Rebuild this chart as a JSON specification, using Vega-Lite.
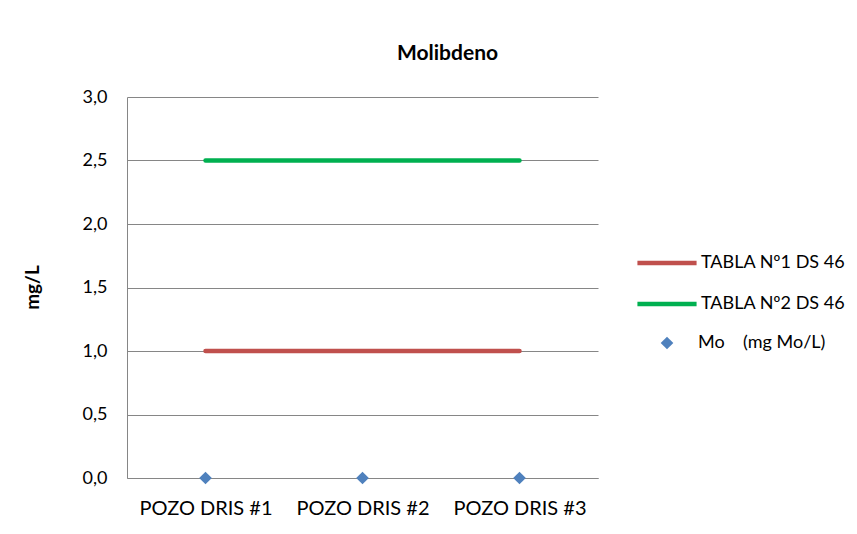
{
  "$schema": "https://vega.github.io/schema/vega-lite/v6.json",
  "width": 471,
  "height": 381,
  "autosize": {"type": "none"},
  "padding": {"left": 127, "top": 97, "right": 259, "bottom": 56},
  "background": "white",
  "datasets": {
    "limites": [
      {"pozo": "POZO DRIS #1", "serie": "TABLA Nº1 DS 46", "valor": 1.0},
      {"pozo": "POZO DRIS #2", "serie": "TABLA Nº1 DS 46", "valor": 1.0},
      {"pozo": "POZO DRIS #3", "serie": "TABLA Nº1 DS 46", "valor": 1.0},
      {"pozo": "POZO DRIS #1", "serie": "TABLA Nº2 DS 46", "valor": 2.5},
      {"pozo": "POZO DRIS #2", "serie": "TABLA Nº2 DS 46", "valor": 2.5},
      {"pozo": "POZO DRIS #3", "serie": "TABLA Nº2 DS 46", "valor": 2.5}
    ],
    "mo": [
      {"pozo": "POZO DRIS #1", "parametro": "Mo\u00a0\u00a0\u00a0\u00a0(mg Mo/L)", "valor": 0.0},
      {"pozo": "POZO DRIS #2", "parametro": "Mo\u00a0\u00a0\u00a0\u00a0(mg Mo/L)", "valor": 0.0},
      {"pozo": "POZO DRIS #3", "parametro": "Mo\u00a0\u00a0\u00a0\u00a0(mg Mo/L)", "valor": 0.0}
    ]
  },
  "title": {
    "text": "Molibdeno",
    "font": "Lato",
    "fontSize": 21,
    "fontWeight": "bold",
    "color": "#000000",
    "anchor": "middle",
    "dx": 85,
    "offset": 24
  },
  "config": {
    "view": {"stroke": null},
    "font": "Lato"
  },
  "encoding": {
    "x": {
      "field": "pozo",
      "type": "ordinal",
      "sort": null,
      "scale": {"type": "point", "padding": 0.5},
      "axis": {
        "title": null,
        "labelAngle": 0,
        "labelFont": "Lato",
        "labelFontSize": 20,
        "labelColor": "#000000",
        "labelPadding": 20,
        "ticks": false,
        "domainColor": "#868686",
        "domainWidth": 1,
        "grid": false
      }
    },
    "y": {
      "field": "valor",
      "type": "quantitative",
      "scale": {"domain": [0, 3], "nice": false},
      "axis": {
        "title": "mg/L",
        "titleFont": "Lato",
        "titleFontSize": 19,
        "titleFontWeight": "bold",
        "titleColor": "#000000",
        "titleX": -95,
        "titleY": 190,
        "titleAlign": "center",
        "titleBaseline": "middle",
        "titleAngle": -90,
        "values": [0, 0.5, 1, 1.5, 2, 2.5, 3],
        "labelExpr": "replace(format(datum.value, '.1f'), '.', ',')",
        "labelFont": "Lato",
        "labelFontSize": 18,
        "labelColor": "#000000",
        "labelPadding": 20,
        "ticks": false,
        "domainColor": "#868686",
        "grid": true,
        "gridColor": "#868686",
        "gridWidth": 1
      }
    }
  },
  "layer": [
    {
      "data": {"name": "limites"},
      "mark": {"type": "line", "strokeWidth": 4.5, "strokeCap": "round"},
      "encoding": {
        "color": {
          "field": "serie",
          "type": "nominal",
          "scale": {"domain": ["TABLA Nº1 DS 46", "TABLA Nº2 DS 46"], "range": ["#C0504D", "#00B050"]},
          "legend": {
            "title": null,
            "orient": "none",
            "legendX": 508,
            "legendY": 134,
            "symbolType": "stroke",
            "symbolStrokeWidth": 4.5,
            "symbolSize": 3500,
            "labelFont": "Lato",
            "labelFontSize": 18,
            "labelColor": "#000000",
            "labelOffset": 2,
            "rowPadding": 0
          }
        }
      }
    },
    {
      "data": {"name": "mo"},
      "mark": {"type": "point", "shape": "diamond", "filled": true, "size": 160, "color": "#4F81BD", "opacity": 1},
      "encoding": {
        "shape": {
          "field": "parametro",
          "type": "nominal",
          "scale": {"range": ["diamond"]},
          "legend": {
            "title": null,
            "orient": "none",
            "legendX": 531,
            "legendY": 237,
            "symbolSize": 160,
            "symbolFillColor": "#4F81BD",
            "symbolStrokeColor": "#4F81BD",
            "symbolOpacity": 1,
            "labelFont": "Lato",
            "labelFontSize": 18,
            "labelColor": "#000000",
            "labelOffset": 22
          }
        }
      }
    }
  ]
}
